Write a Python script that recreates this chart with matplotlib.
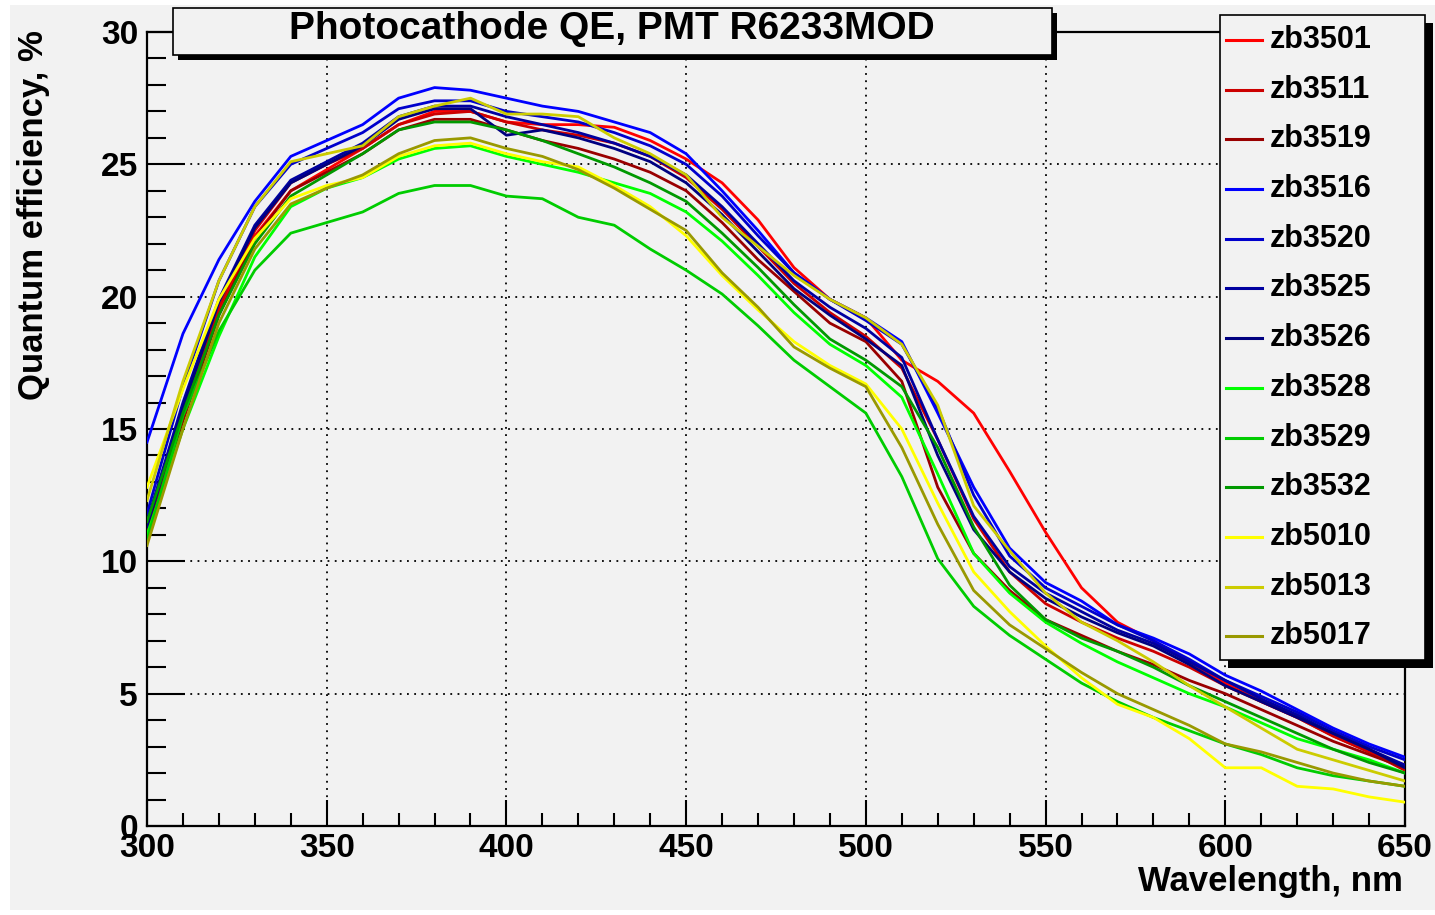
import numpy as np
import matplotlib
matplotlib.use('Agg')
import matplotlib.pyplot as plt
from matplotlib.patches import Rectangle
from matplotlib.lines import Line2D
from matplotlib.ticker import MultipleLocator

# wavelength grid, nm
wavelength = [300, 310, 320, 330, 340, 350, 360, 370, 380, 390, 400, 410,
              420, 430, 440, 450, 460, 470, 480, 490, 500, 510, 520, 530,
              540, 550, 560, 570, 580, 590, 600, 610, 620, 630, 640, 650]

# QE, %
zb3501 = [11.1, 15.5, 19.5, 22.3, 24.0, 24.8, 25.6, 26.5, 27.0, 27.0, 26.6, 26.5,
          26.5, 26.4, 25.9, 25.2, 24.3, 22.9, 21.1, 19.9, 19.2, 17.6, 16.8, 15.6,
          13.4, 11.1, 9.0, 7.7, 7.0, 6.2, 5.4, 4.7, 4.1, 3.4, 2.8, 2.3]
zb3511 = [11.2, 15.6, 19.6, 22.5, 24.3, 25.0, 25.6, 26.5, 26.9, 27.0, 26.6, 26.3,
          26.1, 25.8, 25.3, 24.5, 23.3, 21.9, 20.5, 19.4, 18.5, 17.3, 14.6, 11.6,
          9.6, 8.4, 7.7, 7.1, 6.6, 6.0, 5.3, 4.7, 4.1, 3.4, 2.8, 2.1]
zb3519 = [11.0, 15.3, 19.3, 22.2, 24.0, 24.7, 25.4, 26.3, 26.7, 26.7, 26.3, 25.9,
          25.6, 25.2, 24.7, 24.0, 22.8, 21.4, 20.2, 19.0, 18.3, 16.8, 12.8, 10.3,
          8.9, 7.8, 7.2, 6.6, 6.1, 5.5, 5.0, 4.4, 3.8, 3.2, 2.7, 2.2]
zb3516 = [14.5, 18.6, 21.4, 23.6, 25.3, 25.9, 26.5, 27.5, 27.9, 27.8, 27.5, 27.2,
          27.0, 26.6, 26.2, 25.4, 24.0, 22.5, 20.9, 19.9, 19.2, 18.3, 15.6, 12.8,
          10.5, 9.2, 8.5, 7.6, 7.1, 6.5, 5.7, 5.1, 4.4, 3.7, 3.1, 2.6]
zb3520 = [11.8, 16.6, 20.6, 23.4, 25.0, 25.6, 26.2, 27.1, 27.4, 27.4, 27.0, 26.8,
          26.6, 26.2, 25.7, 25.0, 23.8, 22.3, 20.9, 19.9, 19.1, 18.2, 15.8, 12.5,
          10.2, 9.0, 8.3, 7.6, 7.0, 6.3, 5.5, 4.9, 4.3, 3.6, 3.0, 2.5]
zb3525 = [11.5, 16.0, 19.9, 22.7, 24.4, 25.1, 25.8, 26.8, 27.2, 27.2, 26.8, 26.5,
          26.2, 25.8, 25.3, 24.6, 23.4, 22.0, 20.6, 19.6, 18.8, 17.7, 14.6, 11.7,
          9.8, 8.8, 8.1, 7.4, 6.9, 6.2, 5.5, 4.8, 4.2, 3.5, 2.9, 2.3]
zb3526 = [11.3, 15.8, 19.8, 22.6, 24.3, 25.0, 25.7, 26.7, 27.1, 27.1, 26.1, 26.3,
          26.0, 25.6, 25.1, 24.3, 23.1, 21.7, 20.3, 19.3, 18.4, 17.4, 14.0, 11.2,
          9.6, 8.6, 7.9, 7.3, 6.8, 6.1, 5.3, 4.7, 4.1, 3.5, 2.9, 2.2]
zb3528 = [11.0, 15.0, 18.5, 21.5, 23.4, 24.1, 24.5, 25.2, 25.6, 25.7, 25.3, 25.0,
          24.7, 24.3, 23.9, 23.2, 22.1, 20.8, 19.4, 18.2, 17.4, 16.2, 13.3, 10.3,
          8.8, 7.7, 6.9, 6.2, 5.6, 5.0, 4.5, 3.9, 3.3, 2.9, 2.5, 2.0]
zb3529 = [10.8, 15.5, 18.7, 21.0, 22.4, 22.8, 23.2, 23.9, 24.2, 24.2, 23.8, 23.7,
          23.0, 22.7, 21.8, 21.0, 20.1, 18.9, 17.6, 16.6, 15.6, 13.2, 10.1, 8.3,
          7.2, 6.3, 5.4, 4.7, 4.1, 3.6, 3.1, 2.7, 2.2, 1.9, 1.7, 1.5]
zb3532 = [11.5, 15.6, 19.3, 22.0, 23.8, 24.6, 25.4, 26.3, 26.6, 26.6, 26.3, 25.9,
          25.4, 24.9, 24.3, 23.6, 22.4, 21.1, 19.7, 18.4, 17.6, 16.6, 14.3, 11.3,
          9.1, 7.8, 7.1, 6.6, 6.0, 5.3, 4.7, 4.1, 3.5, 2.9, 2.4, 2.0]
zb5010 = [12.8, 16.5, 19.9, 22.2, 23.7, 24.2, 24.5, 25.3, 25.7, 25.8, 25.4, 25.1,
          24.9, 24.2, 23.4, 22.3, 20.8, 19.5, 18.3, 17.4, 16.7, 15.0, 12.2, 9.6,
          8.1, 6.8, 5.6, 4.6, 4.1, 3.3, 2.2, 2.2, 1.5, 1.4, 1.1, 0.9]
zb5013 = [12.3, 16.8, 20.6, 23.4, 25.1, 25.4, 25.7, 26.8, 27.2, 27.5, 26.9, 26.9,
          26.8, 26.0, 25.4, 24.6, 23.0, 21.9, 20.8, 19.9, 19.2, 18.2, 15.9, 12.1,
          10.4, 8.8, 7.7, 7.0, 6.2, 5.3, 4.5, 3.7, 2.9, 2.5, 2.1, 1.7]
zb5017 = [10.6, 15.0, 19.0, 21.8, 23.5, 24.1, 24.6, 25.4, 25.9, 26.0, 25.6, 25.3,
          24.8, 24.1, 23.3, 22.5, 20.9, 19.6, 18.1, 17.3, 16.6, 14.3, 11.4, 8.9,
          7.6, 6.7, 5.8, 5.0, 4.4, 3.8, 3.1, 2.8, 2.4, 2.0, 1.7, 1.5]

names = ['zb3501', 'zb3511', 'zb3519', 'zb3516', 'zb3520', 'zb3525', 'zb3526',
         'zb3528', 'zb3529', 'zb3532', 'zb5010', 'zb5013', 'zb5017']
series = [zb3501, zb3511, zb3519, zb3516, zb3520, zb3525, zb3526,
          zb3528, zb3529, zb3532, zb5010, zb5013, zb5017]
colors = ['#ff0000', '#cc0000', '#990000', '#0000ff', '#0000cc', '#0000a0', '#000080',
          '#00ff00', '#00cc00', '#009900', '#ffff00', '#cccc00', '#999900']

plt.rcParams['font.family'] = ['Liberation Sans', 'DejaVu Sans']
plt.rcParams['font.weight'] = 'bold'

W, H = 1435, 915
bg = '#f2f2f2'


def fx(px):
    return px / W


def fy(py):
    return 1 - py / H


fig = plt.figure(figsize=(W / 100, H / 100), dpi=100)
fig.patch.set_facecolor('white')
fig.add_artist(Rectangle((fx(10), fy(910)), fx(1435) - fx(10), fy(5) - fy(910),
                         transform=fig.transFigure, facecolor=bg, edgecolor='none', zorder=-5))

ax = fig.add_axes([fx(147), fy(826), fx(1405) - fx(147), fy(32) - fy(826)])
ax.set_facecolor(bg)

for name, vals, c in zip(names, series, colors):
    ax.plot(wavelength, vals, color=c, lw=2.0, label=name, zorder=3)

ax.set_xlim(300, 650)
ax.set_ylim(0, 30)
ax.xaxis.set_major_locator(MultipleLocator(50))
ax.xaxis.set_minor_locator(MultipleLocator(10))
ax.yaxis.set_major_locator(MultipleLocator(5))
ax.yaxis.set_minor_locator(MultipleLocator(1))
ax.grid(True, which='major', color='black', linestyle=(0, (1, 3)), linewidth=1.3, zorder=1)
ax.set_axisbelow(True)

ax.tick_params(axis='y', which='major', direction='in', length=27, width=1.5,
               labelsize=24, pad=6.5, right=False)
ax.tick_params(axis='y', which='minor', direction='in', length=13.5, width=1.5, right=False)
ax.tick_params(axis='x', which='major', direction='in', length=19, width=1.5,
               labelsize=24, pad=5, top=False)
ax.tick_params(axis='x', which='minor', direction='in', length=9.5, width=1.5, top=False)
for s in ax.spines.values():
    s.set_linewidth(1.6)

fig.text(fx(34), fy(30), 'Quantum efficiency, %', rotation=90, ha='center', va='top', fontsize=25)
fig.text(fx(1403), fy(882), 'Wavelength, nm', ha='right', va='center', fontsize=25)

# title box with shadow
sh = 5
fig.add_artist(Rectangle((fx(173 + sh), fy(55 + sh)), fx(1052) - fx(173), fy(8) - fy(55),
                         transform=fig.transFigure, facecolor='black', edgecolor='none', zorder=5))
fig.add_artist(Rectangle((fx(173), fy(55)), fx(1052) - fx(173), fy(8) - fy(55),
                         transform=fig.transFigure, facecolor=bg, edgecolor='black', lw=1.2, zorder=6))
fig.text(fx(612), fy(29), 'Photocathode QE, PMT R6233MOD', ha='center', va='center',
         fontsize=28, zorder=7)

# legend box with shadow
lx0, lx1, ly0, ly1 = 1220, 1425, 15, 660
sh = 8
fig.add_artist(Rectangle((fx(lx0 + sh), fy(ly1 + sh)), fx(lx1) - fx(lx0), fy(ly0) - fy(ly1),
                         transform=fig.transFigure, facecolor='black', edgecolor='none', zorder=5))
fig.add_artist(Rectangle((fx(lx0), fy(ly1)), fx(lx1) - fx(lx0), fy(ly0) - fy(ly1),
                         transform=fig.transFigure, facecolor=bg, edgecolor='black', lw=1.2, zorder=6))
for i, (name, c) in enumerate(zip(names, colors)):
    yy = 40 + i * 49.7
    fig.add_artist(Line2D([fx(1226), fx(1262)], [fy(yy), fy(yy)], transform=fig.transFigure,
                          color=c, lw=2.2, zorder=7))
    fig.text(fx(1270), fy(yy), name, ha='left', va='center', fontsize=22, zorder=7)

fig.savefig('out.png', dpi=100)
